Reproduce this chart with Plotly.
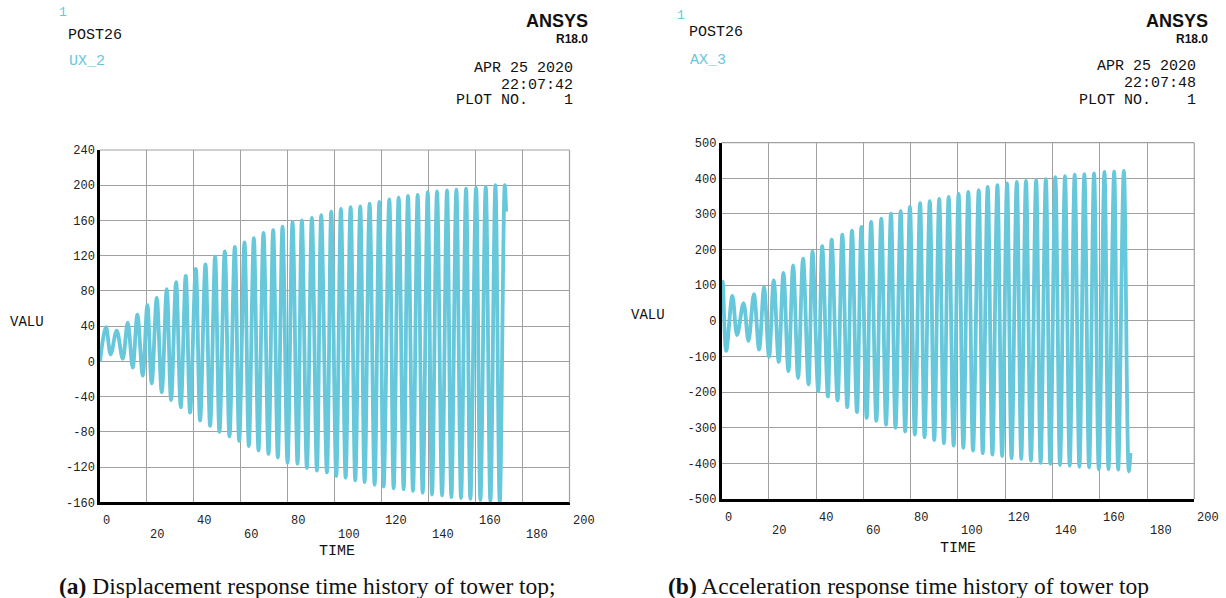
import plotly.graph_objects as go

W, H = 1226, 598

# ---------------- data: panel (a) displacement UX_2 ----------------
disp_start_t = [0.0]
disp_start_v = [0.0]
disp_peak_t = [2.56, 7.11, 11.80, 15.92, 20.18, 24.17, 28.43, 32.41, 36.53, 40.80,
               44.92, 49.04, 53.16, 57.43, 61.55, 65.53, 69.65, 73.77, 77.75, 82.02,
               86.00, 90.26, 94.24, 98.51, 102.63, 106.75, 110.87, 114.85, 118.98, 123.24,
               127.22, 131.20, 135.32, 139.59, 143.57, 147.83, 151.81, 155.93, 160.20, 164.32,
               168.44, 172.42]
disp_peak_v = [39, 35, 44, 53, 64, 72, 82, 90, 97, 105,
               110, 119, 125, 130, 135, 140, 146, 149, 153, 158,
               160, 163, 166, 170, 173, 175, 176, 179, 181, 184,
               186, 188, 189, 192, 193, 194, 195, 196, 197, 198,
               200, 200]
disp_trough_t = [4.55, 9.67, 13.93, 18.20, 22.03, 26.30, 30.28, 34.40, 38.38, 42.64,
                 46.91, 50.89, 55.15, 59.28, 63.40, 67.52, 71.78, 75.76, 79.89, 84.15,
                 88.13, 92.40, 96.66, 100.64, 104.62, 108.74, 112.72, 116.99, 120.82, 125.09,
                 129.35, 133.33, 137.46, 141.44, 145.70, 149.68, 153.80, 157.78, 162.05, 166.31,
                 170.29]
disp_trough_v = [8, 3, -7, -16, -25, -35, -44, -52, -58, -67,
                 -73, -80, -85, -90, -96, -101, -105, -109, -115, -116,
                 -121, -124, -126, -130, -132, -135, -137, -140, -142, -144,
                 -145, -147, -149, -151, -152, -154, -155, -156, -157, -159,
                 -160]
disp_end_t = [173.0]
disp_end_v = [170.0]

# ---------------- data: panel (b) acceleration AX_3 ----------------
acc_start_t = [0.0]
acc_start_v = [20.0]
acc_peak_t = [0.5, 4.6, 9.3, 13.7, 18.0, 22.1, 26.2, 30.3, 34.5, 38.5,
              42.6, 46.6, 51.1, 55.2, 59.2, 63.3, 67.6, 71.7, 75.8, 79.7,
              84.0, 88.1, 92.1, 96.1, 100.3, 104.4, 108.8, 112.6, 116.7, 120.8,
              124.9, 128.8, 133.1, 137.2, 141.2, 145.3, 149.4, 153.5, 157.6, 162.0,
              166.1, 170.2]
acc_peak_v = [110, 70, 50, 75, 94, 114, 135, 156, 175, 194,
              210, 228, 242, 253, 264, 278, 287, 301, 308, 320,
              330, 336, 342, 348, 356, 362, 367, 376, 381, 386,
              390, 393, 395, 398, 403, 406, 410, 412, 414, 418,
              419, 421]
acc_trough_t = [2.0, 6.6, 11.4, 15.9, 20.1, 24.2, 28.3, 32.4, 36.8, 40.9,
                45.0, 49.1, 53.2, 57.3, 61.4, 65.5, 69.6, 73.6, 77.7, 81.8,
                85.9, 90.0, 94.1, 98.2, 102.3, 106.4, 110.5, 114.6, 118.7, 122.7,
                126.8, 130.9, 135.0, 139.1, 143.2, 147.3, 151.4, 155.5, 159.6, 163.7,
                167.8, 172.3]
acc_trough_v = [-84, -40, -56, -80, -101, -115, -141, -160, -178, -197,
                -212, -223, -242, -256, -272, -280, -291, -300, -310, -319,
                -326, -334, -343, -350, -356, -364, -371, -375, -379, -385,
                -387, -392, -398, -401, -404, -406, -409, -411, -416, -416,
                -417, -422]
acc_end_t = [173.0]
acc_end_v = [-370.0]

# ---------------- axis ticks ----------------
time_ticks = [0, 20, 40, 60, 80, 100, 120, 140, 160, 180, 200]
time_labels = ["0", "20", "40", "60", "80", "100", "120", "140", "160", "180", "200"]
disp_ticks = [-160, -120, -80, -40, 0, 40, 80, 120, 160, 200, 240]
disp_labels = ["-160", "-120", "-80", "-40", "0", "40", "80", "120", "160", "200", "240"]
acc_ticks = [-500, -400, -300, -200, -100, 0, 100, 200, 300, 400, 500]
acc_labels = ["-500", "-400", "-300", "-200", "-100", "0", "100", "200", "300", "400", "500"]


def merge(st, sv, pt, pv, tt, tv, et, ev):
    pts = list(zip(st, sv)) + list(zip(pt, pv)) + list(zip(tt, tv)) + list(zip(et, ev))
    pts.sort(key=lambda p: p[0])
    return [p[0] for p in pts], [p[1] for p in pts]


dx, dy = merge(disp_start_t, disp_start_v, disp_peak_t, disp_peak_v,
               disp_trough_t, disp_trough_v, disp_end_t, disp_end_v)
ax_, ay_ = merge(acc_start_t, acc_start_v, acc_peak_t, acc_peak_v,
                 acc_trough_t, acc_trough_v, acc_end_t, acc_end_v)

LINE = "#66c8da"
GRID = "#a0a0a0"
MONO = "Liberation Mono, DejaVu Sans Mono, monospace"
SERIF = "Liberation Serif, Times New Roman, serif"
SANS = "Liberation Sans, Arial, sans-serif"

fig = go.Figure()
fig.add_trace(go.Scatter(x=dx, y=dy, mode="lines", xaxis="x", yaxis="y",
                         line=dict(color=LINE, width=3.8, shape="spline", smoothing=1.0),
                         hoverinfo="skip"))
fig.add_trace(go.Scatter(x=ax_, y=ay_, mode="lines", xaxis="x2", yaxis="y2",
                         line=dict(color=LINE, width=3.8, shape="spline", smoothing=1.0),
                         hoverinfo="skip"))


def px_x(p):
    return p / W


def px_y(p):
    # target pixel row -> paper fraction (with small vertical placement correction)
    q = (p - 6.4) / 0.974
    return 1 - q / H


# plot area boxes in pixels (target positions)
A = dict(l=100, r=569.5, t=150.0, b=501.5)
B = dict(l=721.5, r=1194.3, t=142.7, b=498.3)


def xaxis_cfg(box, anchor):
    return dict(domain=[px_x(box["l"]), px_x(box["r"])], range=[0, 200], anchor=anchor,
                tickvals=time_ticks, showticklabels=False, ticks="",
                showgrid=True, gridcolor=GRID, gridwidth=1,
                showline=True, linecolor="black", linewidth=3, zeroline=False,
                fixedrange=True)


def yaxis_cfg(box, anchor, rng, vals, labels):
    return dict(domain=[px_y(box["b"]), px_y(box["t"])], range=rng, anchor=anchor,
                tickvals=vals, ticktext=labels, ticks="",
                tickfont=dict(family=MONO, size=12, color="#222"),
                showgrid=True, gridcolor=GRID, gridwidth=1,
                showline=True, linecolor="black", linewidth=2.5, zeroline=False,
                fixedrange=True)


fig.update_layout(
    width=W, height=H, autosize=False,
    margin=dict(l=0, r=0, t=0, b=0),
    paper_bgcolor="white", plot_bgcolor="white",
    showlegend=False,
    xaxis=xaxis_cfg(A, "y"),
    yaxis=yaxis_cfg(A, "x", [-160, 240], disp_ticks, disp_labels),
    xaxis2=xaxis_cfg(B, "y2"),
    yaxis2=yaxis_cfg(B, "x2", [-500, 500], acc_ticks, acc_labels),
)

# top / right borders of each plot frame
for xr, yr in (("x domain", "y domain"), ("x2 domain", "y2 domain")):
    fig.add_shape(type="line", xref=xr, yref=yr, x0=0, x1=1, y0=1, y1=1,
                  line=dict(color=GRID, width=1.2))
    fig.add_shape(type="line", xref=xr, yref=yr, x0=1, x1=1, y0=0, y1=1,
                  line=dict(color=GRID, width=1.2))

ann = []


def txt(x, y, s, size, color="#111", xanchor="left", family=MONO):
    ann.append(dict(x=px_x(x), y=px_y(y), xref="paper", yref="paper",
                    text=s, showarrow=False, xanchor=xanchor, yanchor="middle",
                    font=dict(family=family, size=size, color=color)))


# staggered time tick labels
for xr, up, low in (("x", 520, 533.5), ("x2", 517, 530.5)):
    for i, (v, lab) in enumerate(zip(time_ticks, time_labels)):
        yy = up if i % 2 == 0 else low
        ann.append(dict(x=v, y=px_y(yy), xref=xr, yref="paper", text=lab,
                        showarrow=False, xanchor="left", yanchor="middle", xshift=1,
                        font=dict(family=MONO, size=12, color="#222")))

NB = "\u00a0"
# headers panel (a)
txt(57, 13, "1", 13, LINE)
txt(66, 36, "POST26", 15)
txt(67, 62, "UX_2", 15, LINE)
txt(590, 21, "<b>ANSYS</b>", 18, "#111", "right", SANS)
txt(590, 39, "<b>R18.0</b>", 12, "#111", "right", SANS)
txt(575, 69, "APR 25 2020", 15, "#111", "right")
txt(575, 86, "22:07:42", 15, "#111", "right")
txt(575, 101, "PLOT NO." + NB * 4 + "1", 15, "#111", "right")
txt(27, 322, "VALU", 14, "#111", "center")
txt(337, 550, "TIME", 15, "#111", "center")
txt(57, 585, "<b>(a)</b> Displacement response time history of tower top;", 23.5, "#111", "left", SERIF)

# headers panel (b)
txt(675, 16, "1", 13, LINE)
txt(687, 33, "POST26", 15)
txt(688, 61, "AX_3", 15, LINE)
txt(1210, 21, "<b>ANSYS</b>", 18, "#111", "right", SANS)
txt(1210, 39, "<b>R18.0</b>", 12, "#111", "right", SANS)
txt(1198, 67, "APR 25 2020", 15, "#111", "right")
txt(1198, 84, "22:07:48", 15, "#111", "right")
txt(1198, 101, "PLOT NO." + NB * 4 + "1", 15, "#111", "right")
txt(648, 315, "VALU", 14, "#111", "center")
txt(958, 547, "TIME", 15, "#111", "center")
txt(666, 585, "<b>(b)</b> Acceleration response time history of tower top", 23.5, "#111", "left", SERIF)

fig.update_layout(annotations=ann)
fig.write_html("out.html", config={"displayModeBar": False},
               post_script="document.body.style.margin='0';document.body.style.overflow='hidden';")
